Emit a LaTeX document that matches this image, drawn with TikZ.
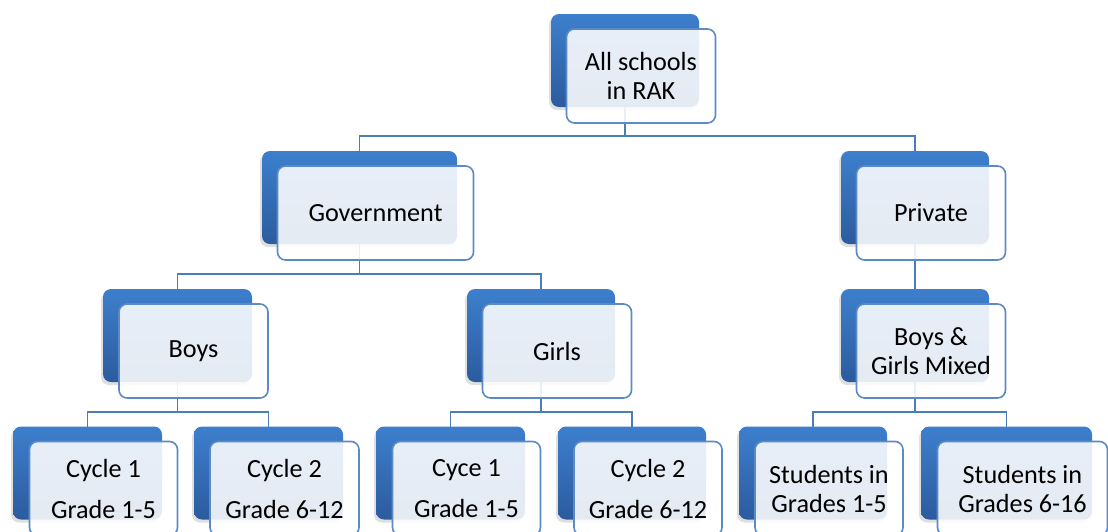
\documentclass[tikz,border=0pt]{standalone}
\usepackage{fontspec}
\setmainfont{Carlito}
\usetikzlibrary{calc,shadows,backgrounds}

\definecolor{boxtop}{RGB}{61,127,205}
\definecolor{boxbottom}{RGB}{44,91,158}
\definecolor{boxframe}{RGB}{91,138,197}
\definecolor{linkblue}{RGB}{74,126,187}

\tikzset{
  backbox/.style={rectangle, rounded corners=4pt, inner sep=0pt, outer sep=0pt,
    minimum height=46.5pt, top color=boxtop, bottom color=boxbottom, draw=none,
    drop shadow={shadow xshift=-1pt, shadow yshift=-1.5pt, opacity=0.25}},
  frontbox/.style={rectangle, rounded corners=4pt, inner sep=0pt, outer sep=0pt,
    minimum height=47pt, draw=boxframe, line width=0.8pt, fill=white,
    fill opacity=0.88, text opacity=1, align=center,
    font=\fontsize{13.1}{14.5}\selectfont},
  link/.style={draw=linkblue, line width=0.8pt}
}

\begin{document}
\begin{tikzpicture}[x=0.5pt,y=-0.5pt]
      \useasboundingbox (0,0) rectangle (1108,531);
      % top
      \node[backbox, minimum width=74pt] (all) at (625,60.5) {};
      \node[frontbox, minimum width=74.5pt] (allf) at ($(all)+(16,15.5)$) {All schools\\in RAK};
      % second row
      \node[backbox, minimum width=97.5pt] (gov) at (359.5,197.5) {};
      \node[frontbox, minimum width=98pt] (govf) at ($(gov)+(16,15.5)$) {Government};
      \node[backbox, minimum width=74pt] (priv) at (915,197.5) {};
      \node[frontbox, minimum width=74.5pt] (privf) at ($(priv)+(16,15.5)$) {Private};
      % third row
      \node[backbox, minimum width=74.5pt] (boys) at (177.5,335.5) {};
      \node[frontbox, minimum width=74.5pt] (boysf) at ($(boys)+(16,15.5)$) {Boys};
      \node[backbox, minimum width=74pt] (girls) at (541,335.5) {};
      \node[frontbox, minimum width=74.5pt] (girlsf) at ($(girls)+(16,15.5)$) {Girls};
      \node[backbox, minimum width=74pt] (mixed) at (915,335.5) {};
      \node[frontbox, minimum width=74.5pt] (mixedf) at ($(mixed)+(16,15.5)$) {Boys \&\\Girls Mixed};
      % bottom row
      \node[backbox, minimum width=74.5pt] (bcyc1) at (87.5,473) {};
      \node[frontbox, minimum width=74pt] (bcyc1f) at ($(bcyc1)+(16,15.5)$) {Cycle 1\\[6pt]Grade 1-5};
      \node[backbox, minimum width=74.5pt] (bcyc2) at (268.5,473) {};
      \node[frontbox, minimum width=74.5pt] (bcyc2f) at ($(bcyc2)+(16,15.5)$) {Cycle 2\\[6pt]Grade 6-12};
      \node[backbox, minimum width=74.5pt] (gcyc1) at (450.5,473) {};
      \node[frontbox, minimum width=74pt] (gcyc1f) at ($(gcyc1)+(16,15.5)$) {Cyce 1\\[6pt]Grade 1-5};
      \node[backbox, minimum width=74pt] (gcyc2) at (632,473) {};
      \node[frontbox, minimum width=74pt] (gcyc2f) at ($(gcyc2)+(16,15.5)$) {Cycle 2\\[6pt]Grade 6-12};
      \node[backbox, minimum width=74pt] (mgr1) at (813,473) {};
      \node[frontbox, minimum width=74pt] (mgr1f) at ($(mgr1)+(16,15.5)$) {Students in\\Grades 1-5};
      \node[backbox, minimum width=85.5pt] (mgr2) at (1006.5,473) {};
      \node[frontbox, minimum width=85pt] (mgr2f) at ($(mgr2)+(16,15.5)$) {Students in\\Grades 6-16};
      % connectors
      \begin{scope}[on background layer]
        \draw[link] (all.south) -- ++(0,29) -| (gov.north);
        \draw[link] (all.south) -- ++(0,29) -| (priv.north);
        \draw[link] (gov.south) -- ++(0,30) -| (boys.north);
        \draw[link] (gov.south) -- ++(0,30) -| (girls.north);
        \draw[link] (priv.south) -- (mixed.north);
        \draw[link] (boys.south) -- ++(0,30) -| (bcyc1.north);
        \draw[link] (boys.south) -- ++(0,30) -| (bcyc2.north);
        \draw[link] (girls.south) -- ++(0,30) -| (gcyc1.north);
        \draw[link] (girls.south) -- ++(0,30) -| (gcyc2.north);
        \draw[link] (mixed.south) -- ++(0,30) -| (mgr1.north);
        \draw[link] (mixed.south) -- ++(0,30) -| (mgr2.north);
      \end{scope}
\end{tikzpicture}
\end{document}
